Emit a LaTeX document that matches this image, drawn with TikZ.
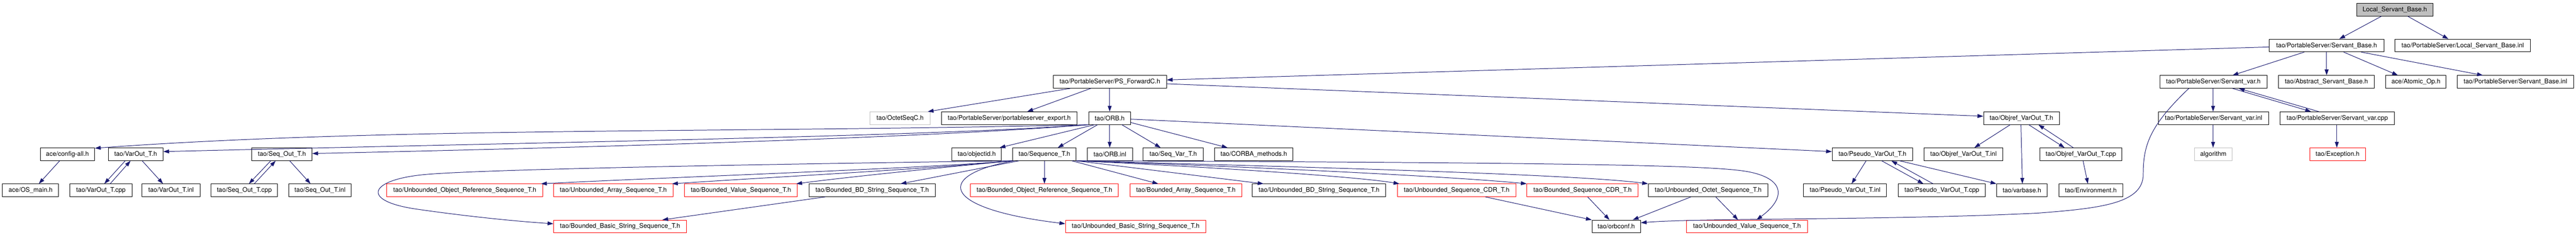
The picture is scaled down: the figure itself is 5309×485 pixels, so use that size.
\documentclass[tikz,border=0pt]{standalone}
\usepackage{fontspec}
\setmainfont{TeX Gyre Heros}
\usetikzlibrary{arrows.meta}
\definecolor{edgecol}{HTML}{191970}
\definecolor{greyline}{HTML}{BFBFBF}
\begin{document}
\begin{tikzpicture}[x=0.02cm,y=-0.02cm,
  box/.style={draw=black, line width=0.6pt, inner sep=0pt, minimum height=0.52cm, fill=white,
    font=\fontsize{7.5}{9}\selectfont},
  redbox/.style={box, draw=red},
  greybox/.style={box, draw=greyline},
  bw/.style={minimum width=#1*0.02cm},
  edge/.style={draw=edgecol, line width=0.6pt, -{Triangle[length=0.24cm,width=0.16cm]}}]
\useasboundingbox (0,0) rectangle (5309,485);
% row 0
\node[box, fill=greyline, bw=157] (lsb) at (4935.5,20) {Local\_Servant\_Base.h};
% row 1
\node[box, bw=236] (sb) at (4795,94) {tao/PortableServer/Servant\_Base.h};
\node[box, bw=279] (lsbinl) at (5075.5,94) {tao/PortableServer/Local\_Servant\_Base.inl};
% row 2
\node[box, bw=233] (psf) at (2287.5,169) {tao/PortableServer/PS\_ForwardC.h};
\node[box, bw=221] (svh) at (4561.5,169) {tao/PortableServer/Servant\_var.h};
\node[box, bw=197] (asb) at (4794.5,169) {tao/Abstract\_Servant\_Base.h};
\node[box, bw=124] (atom) at (4979,169) {ace/Atomic\_Op.h};
\node[box, bw=240] (sbinl) at (5184,169) {tao/PortableServer/Servant\_Base.inl};
% row 3
\node[greybox, bw=124] (octet) at (1855,244) {tao/OctetSeqC.h};
\node[box, bw=280] (pse) at (2080,244) {tao/PortableServer/portableserver\_export.h};
\node[box, bw=86] (orb) at (2287,244) {tao/ORB.h};
\node[box, bw=156] (objref) at (4166,244) {tao/Objref\_VarOut\_T.h};
\node[box, bw=228] (svinl) at (4562,244) {tao/PortableServer/Servant\_var.inl};
\node[box, bw=236] (svcpp) at (4817,244) {tao/PortableServer/Servant\_var.cpp};
% row 4
\node[box, bw=112] (config) at (139,318.5) {ace/config-all.h};
\node[box, bw=113] (varout) at (279.5,318.5) {tao/VarOut\_T.h};
\node[box, bw=124] (seqout) at (581,318.5) {tao/Seq\_Out\_T.h};
\node[box, bw=102] (objectid) at (2013,318.5) {tao/objectid.h};
\node[box, bw=131] (seqt) at (2152.5,318.5) {tao/Sequence\_T.h};
\node[box, bw=93] (orbinl) at (2287.5,318.5) {tao/ORB.inl};
\node[box, bw=124] (seqvar) at (2418,318.5) {tao/Seq\_Var\_T.h};
\node[box, bw=162] (corba) at (2584,318.5) {tao/CORBA\_methods.h};
\node[box, bw=166] (pseudo) at (3859,318.5) {tao/Pseudo\_VarOut\_T.h};
\node[box, bw=163] (objrefinl) at (4046.5,318.5) {tao/Objref\_VarOut\_T.inl};
\node[box, bw=169] (objrefcpp) at (4288.5,318.5) {tao/Objref\_VarOut\_T.cpp};
\node[greybox, bw=77] (algo) at (4561.5,318.5) {algorithm};
\node[redbox, bw=115] (exc) at (4817.5,318.5) {tao/Exception.h};
% row 5
\node[box, bw=116] (osmain) at (63,393) {ace/OS\_main.h};
\node[box, bw=128] (varoutcpp) at (208,393) {tao/VarOut\_T.cpp};
\node[box, bw=119] (varoutinl) at (352.5,393) {tao/VarOut\_T.inl};
\node[box, bw=137] (seqoutcpp) at (503.5,393) {tao/Seq\_Out\_T.cpp};
\node[box, bw=129] (seqoutinl) at (659.5,393) {tao/Seq\_Out\_T.inl};
\node[redbox, bw=322] (uors) at (958,393) {tao/Unbounded\_Object\_Reference\_Sequence\_T.h};
\node[redbox, bw=246] (uas) at (1264,393) {tao/Unbounded\_Array\_Sequence\_T.h};
\node[redbox, bw=232] (bvs) at (1527,393) {tao/Bounded\_Value\_Sequence\_T.h};
\node[box, bw=261] (bbds) at (1797.5,393) {tao/Bounded\_BD\_String\_Sequence\_T.h};
\node[redbox, bw=305] (bors) at (2152.5,393) {tao/Bounded\_Object\_Reference\_Sequence\_T.h};
\node[redbox, bw=230] (bas) at (2444,393) {tao/Bounded\_Array\_Sequence\_T.h};
\node[box, bw=275] (ubds) at (2718.5,393) {tao/Unbounded\_BD\_String\_Sequence\_T.h};
\node[redbox, bw=244] (uscdr) at (3002,393) {tao/Unbounded\_Sequence\_CDR\_T.h};
\node[redbox, bw=229] (bscdr) at (3261.5,393) {tao/Bounded\_Sequence\_CDR\_T.h};
\node[box, bw=247] (uos) at (3520.5,393) {tao/Unbounded\_Octet\_Sequence\_T.h};
\node[box, bw=171] (pvinl) at (3802.5,393) {tao/Pseudo\_VarOut\_T.inl};
\node[box, bw=180] (pvcpp) at (4002,393) {tao/Pseudo\_VarOut\_T.cpp};
\node[box, bw=104] (varbase) at (4167,393) {tao/varbase.h};
\node[box, bw=132] (env) at (4309,393) {tao/Environment.h};
% row 6
\node[redbox, bw=274] (bbss) at (1278,467.5) {tao/Bounded\_Basic\_String\_Sequence\_T.h};
\node[redbox, bw=289] (ubss) at (2340.5,467.5) {tao/Unbounded\_Basic\_String\_Sequence\_T.h};
\node[box, bw=100] (orbconf) at (3331,467.5) {tao/orbconf.h};
\node[redbox, bw=249] (uvs) at (3600.5,467.5) {tao/Unbounded\_Value\_Sequence\_T.h};

% edges
\draw[edge] (lsb.south -| 4908,0) -- (sb.north -| 4821,0);
\draw[edge] (lsb.south -| 4962,0) -- (lsbinl.north -| 5046,0);
\draw[edge] (sb.west |- 0,97) -- (psf.east |- 0,165);
\draw[edge] (sb.south -| 4749,0) -- (svh.north -| 4601,0);
\draw[edge] (sb.south -| 4795,0) -- (asb.north -| 4795,0);
\draw[edge] (sb.south -| 4830,0) -- (atom.north -| 4942,0);
\draw[edge] (sb.south -| 4866,0) -- (sbinl.north -| 5117,0);
\draw[edge] (psf.south -| 2206,0) -- (octet.north -| 1912,0);
\draw[edge] (psf.south -| 2248,0) -- (pse.north -| 2117,0);
\draw[edge] (psf.south -| 2287,0) -- (orb.north -| 2287,0);
\draw[edge] (psf.east |- 0,173) -- (objref.west |- 0,240);
% ORB.h
\draw[edge] (orb.south -| 2256,0) -- (objectid.north -| 2060,0);
\draw[edge] (orb.south -| 2262,0) -- (seqt.north -| 2180,0);
\draw[edge] (orb.south -| 2287,0) -- (orbinl.north -| 2287,0);
\draw[edge] (orb.south -| 2312,0) -- (seqvar.north -| 2392,0);
\draw[edge] (orb.east |- 0,253) -- (corba.north -| 2530,0);
\draw[edge] (orb.east |- 0,246) -- (pseudo.west |- 0,313);
\draw[edge] (orb.south west) .. controls (1500,275) and (800,262) .. (config.east |- 0,306);
\draw[edge] (orb.south west) .. controls (1900,282) and (1200,292) .. (varout.east |- 0,313);
\draw[edge] (orb.south west) .. controls (1900,285) and (1200,305) .. (seqout.east |- 0,317);
% Sequence_T.h
\draw[edge] (seqt.south west) .. controls (1900,348) and (1400,365) .. (uors.north -| 1115,0);
\draw[edge] (seqt.south west) .. controls (1900,350) and (1600,365) .. (uas.north -| 1385,0);
\draw[edge] (seqt.south west) .. controls (1950,345) and (1750,365) .. (bvs.north -| 1641,0);
\draw[edge] (seqt.south -| 2100,0) -- (bbds.north -| 1856,0);
\draw[edge] (seqt.south) -- (bors.north);
\draw[edge] (seqt.south -| 2209,0) -- (bas.north -| 2387,0);
\draw[edge] (seqt.south -| 2090,0) .. controls (1930,360) and (1930,430) .. (ubss.west |- 0,462);
\draw[edge] (seqt.south west) .. controls (1500,340) and (1000,350) .. (880,360)
  .. controls (760,370) and (740,415) .. (860,432)
  .. controls (950,445) and (1050,456) .. (bbss.west |- 0,462);
\draw[edge] (seqt.south east) -- (ubds.north -| 2604,0);
\draw[edge] (seqt.south east) .. controls (2500,345) and (2800,365) .. (uscdr.north -| 2884,0);
\draw[edge] (seqt.south east) .. controls (2600,345) and (3000,365) .. (bscdr.north west);
\draw[edge] (seqt.south east) .. controls (2700,345) and (3250,360) .. (uos.north west);
\draw[edge] (seqt.south east) .. controls (3300,336) and (3540,342) .. (3605,355)
  .. controls (3680,370) and (3680,410) .. (uvs.north -| 3620,0);
\draw[edge] (bbds.south -| 1701,0) -- (bbss.north -| 1365,0);
% left group
\draw[edge] (config.south -| 123,0) -- (osmain.north -| 80,0);
\draw[edge] (varout.south -| 258,0) -- (varoutcpp.north -| 215,0);
\draw[edge] (varoutcpp.north -| 227,0) -- (varout.south -| 269,0);
\draw[edge] (varout.south -| 293,0) -- (varoutinl.north -| 336,0);
\draw[edge] (seqout.south -| 558,0) -- (seqoutcpp.north -| 513,0);
\draw[edge] (seqoutcpp.north -| 524,0) -- (seqout.south -| 568,0);
\draw[edge] (seqout.south -| 597,0) -- (seqoutinl.north -| 640,0);
% orbconf / value seq
\draw[edge] (uscdr.south -| 3061,0) -- (orbconf.north west);
\draw[edge] (bscdr.south -| 3272,0) -- (orbconf.north -| 3317,0);
\draw[edge] (uos.south -| 3485,0) -- (orbconf.north -| 3365,0);
\draw[edge] (uos.south -| 3536,0) -- (uvs.north -| 3582,0);
\draw[edge] (svh.south -| 4511,0) .. controls (4430,260) and (4417,300) .. (4417,360)
  .. controls (4417,420) and (4330,430) .. (4200,440)
  .. controls (3900,455) and (3500,450) .. (orbconf.east |- 0,460);
% Pseudo_VarOut
\draw[edge] (pseudo.south -| 3846,0) -- (pvinl.north -| 3816,0);
\draw[edge] (pseudo.south -| 3878,0) -- (pvcpp.north -| 3964,0);
\draw[edge] (pvcpp.north -| 3984,0) -- (pseudo.south -| 3898,0);
\draw[edge] (pseudo.south -| 3915,0) -- (varbase.north west);
% Objref_VarOut
\draw[edge] (objref.south -| 4143,0) -- (objrefinl.north -| 4069,0);
\draw[edge] (objref.south -| 4165,0) -- (varbase.north -| 4168,0);
\draw[edge] (objref.south -| 4181,0) -- (objrefcpp.north -| 4255,0);
\draw[edge] (objrefcpp.north -| 4273,0) -- (objref.south -| 4201,0);
\draw[edge] (objrefcpp.south -| 4293,0) -- (env.north -| 4303,0);
% Servant_var
\draw[edge] (svh.south -| 4561,0) -- (svinl.north -| 4561,0);
\draw[edge] (svh.south -| 4601,0) -- (svcpp.north -| 4763,0);
\draw[edge] (svcpp.north -| 4779,0) -- (svh.south -| 4614,0);
\draw[edge] (svinl.south -| 4561,0) -- (algo.north -| 4561,0);
\draw[edge] (svcpp.south -| 4816,0) -- (exc.north -| 4816,0);
\end{tikzpicture}
\end{document}
